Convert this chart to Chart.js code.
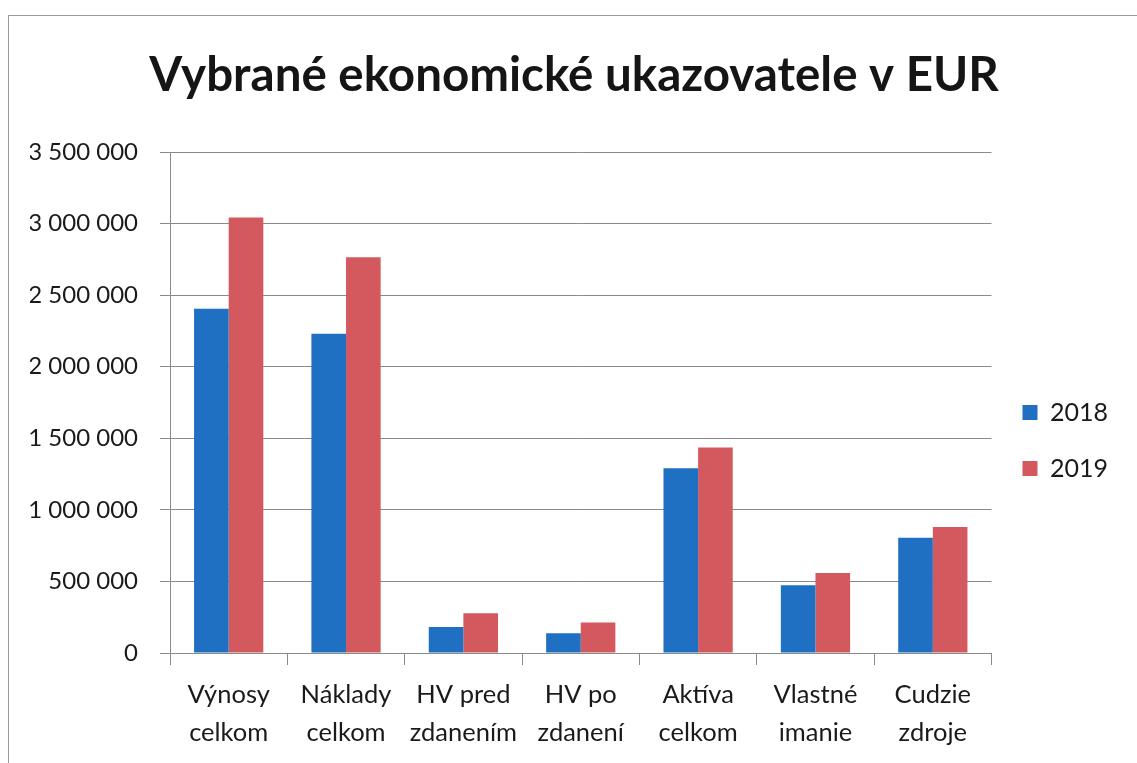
<!DOCTYPE html>
<html>
<head>
<meta charset="utf-8">
<script src="https://cdn.jsdelivr.net/npm/chart.js@4/dist/chart.umd.min.js"></script>
<style>
    html, body { margin: 0; padding: 0; background: #fff; }
    #wrap { position: relative; width: 1137px; height: 763px; overflow: hidden; }
    #frame { position: absolute; left: 8px; top: 15px; width: 1200px; height: 800px; border: 1px solid #9a9a9a; }
    canvas { position: absolute; left: 0; top: 0; }
</style>
</head>
<body>
<div id="wrap">
    <div id="frame"></div>
    <canvas id="chart" width="1137" height="763"></canvas>
</div>
<script>
const categories = [
    ['Výnosy', 'celkom'],
    ['Náklady', 'celkom'],
    ['HV pred', 'zdanením'],
    ['HV po', 'zdanení'],
    ['Aktíva', 'celkom'],
    ['Vlastné', 'imanie'],
    ['Cudzie', 'zdroje']
];
const values2018 = [2405000, 2231000, 181000, 138000, 1290000, 474000, 805000];
const values2019 = [3043000, 2764000, 277000, 214000, 1435000, 559000, 880000];
const seriesNames = ['2018', '2019'];

const fontFamily = 'Lato, "Open Sans", sans-serif';

// 3500000 -> "3 500 000"
function spaced(v) {
    return String(v).replace(/\B(?=(\d{3})+(?!\d))/g, ' ');
}

const ctx = document.getElementById('chart').getContext('2d');
new Chart(ctx, {
    type: 'bar',
    data: {
        labels: categories,
        datasets: [{
            label: seriesNames[0],
            data: values2018,
            backgroundColor: '#1f70c2',
            categoryPercentage: 0.59,
            barPercentage: 1.0
        }, {
            label: seriesNames[1],
            data: values2019,
            backgroundColor: '#d3595f',
            categoryPercentage: 0.59,
            barPercentage: 1.0
        }]
    },
    options: {
        responsive: false,
        animation: false,
        layout: {
            padding: { left: 30, right: 19, top: 0, bottom: 0 }
        },
        plugins: {
            title: {
                display: true,
                text: 'Vybrané ekonomické ukazovatele v EUR',
                color: '#151515',
                font: { family: fontFamily, size: 47.5, weight: 'bold', lineHeight: 1.2 },
                padding: { top: 47, bottom: 48 }
            },
            legend: {
                position: 'right',
                // empty title only pushes the two entries down
                title: {
                    display: true,
                    text: '',
                    font: { size: 10, lineHeight: 1 },
                    padding: { top: 54, bottom: 54 }
                },
                labels: {
                    color: '#1a1a1a',
                    font: { family: fontFamily, size: 25 },
                    boxWidth: 15,
                    boxHeight: 15,
                    padding: 31
                }
            },
            tooltip: { enabled: false }
        },
        scales: {
            x: {
                grid: {
                    offset: true,
                    drawOnChartArea: false,
                    drawTicks: true,
                    tickLength: 12,
                    color: '#8a8a8a'
                },
                border: { color: '#8a8a8a' },
                ticks: {
                    color: '#1a1a1a',
                    padding: 11,
                    maxRotation: 0,
                    autoSkip: false,
                    font: { family: fontFamily, size: 25.5, lineHeight: 1.49 }
                }
            },
            y: {
                min: 0,
                max: 3500000,
                afterFit: (scale) => { scale.width = 140; },
                grid: {
                    color: '#8a8a8a',
                    tickLength: 10
                },
                border: { color: '#8a8a8a' },
                ticks: {
                    stepSize: 500000,
                    color: '#1a1a1a',
                    padding: 22,
                    font: { family: fontFamily, size: 24 },
                    callback: (v) => spaced(v)
                }
            }
        }
    }
});
</script>
</body>
</html>
